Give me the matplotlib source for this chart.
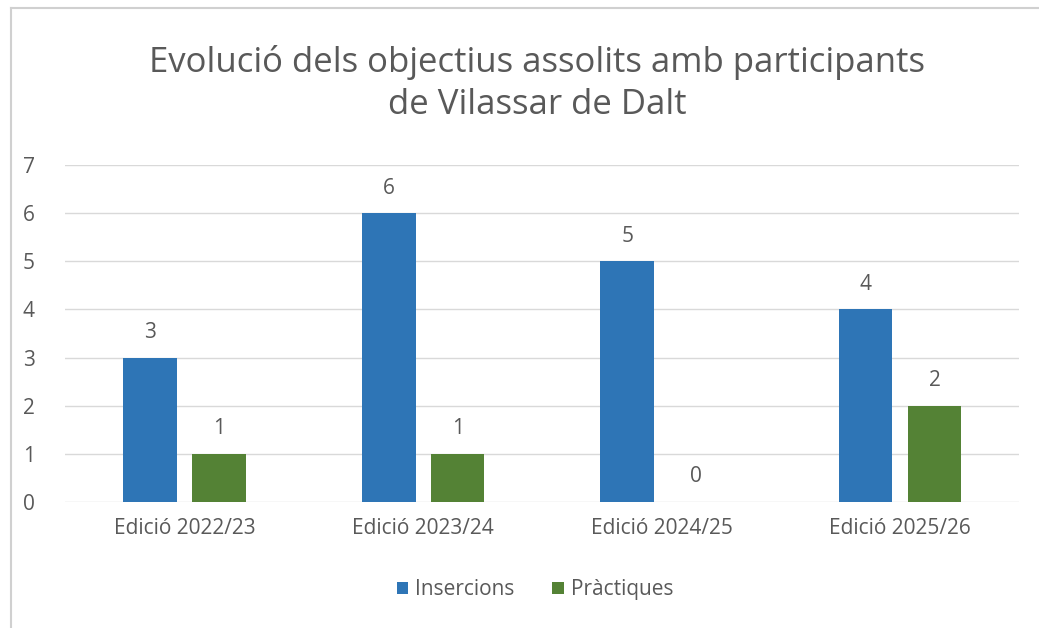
import matplotlib.pyplot as plt
from matplotlib.lines import Line2D
import numpy as np

edicions = ['Edició 2022/23', 'Edició 2023/24', 'Edició 2024/25', 'Edició 2025/26']
insercions = [3, 6, 5, 4]
practiques = [1, 1, 0, 2]

blau = '#2e75b6'
verd = '#548235'
gris = '#595959'

plt.rcParams['font.family'] = ['Open Sans', 'DejaVu Sans']

fig = plt.figure(figsize=(10.39, 6.28), dpi=100)
ax = fig.add_axes([0.063, 0.201, 0.918, 0.536])

x = np.arange(len(edicions))
amplada = 0.225
sep = 0.064
off = (amplada + sep) / 2

b1 = ax.bar(x - off, insercions, amplada, color=blau, label='Insercions', zorder=3)
b2 = ax.bar(x + off, practiques, amplada, color=verd, label='Pràctiques', zorder=3)

for barres in (b1, b2):
    for b in barres:
        ax.text(b.get_x() + b.get_width() / 2, b.get_height() + 0.3, str(int(b.get_height())),
                ha='center', va='bottom', fontsize=15, color=gris)

ax.set_xlim(-0.5, 3.5)
ax.set_ylim(0, 7)
ax.set_yticks(range(0, 8))
ax.set_xticks(x)
ax.set_xticklabels(edicions)
ax.tick_params(axis='both', length=0, labelsize=15, labelcolor=gris)
ax.tick_params(axis='x', pad=12)
ax.tick_params(axis='y', pad=22)
ax.grid(axis='y', color='#d9d9d9', linewidth=1, zorder=0)
for s in ax.spines.values():
    s.set_visible(False)

fig.text(0.517, 0.867, 'Evolució dels objectius assolits amb participants\nde Vilassar de Dalt',
         ha='center', va='center', fontsize=25, color=gris, linespacing=1.3)

fig.legend(handles=[b1, b2], loc='center', bbox_to_anchor=(0.515, 0.061), ncol=2, frameon=False,
           fontsize=15, labelcolor=gris, handlelength=0.55, handleheight=0.55, handletextpad=0.35,
           columnspacing=1.8)

# vora del gràfic
fig.add_artist(Line2D([0.0106, 1.0], [0.987, 0.987], color='#d0d0d0', linewidth=1.5))
fig.add_artist(Line2D([0.0106, 0.0106], [0.0, 0.987], color='#d0d0d0', linewidth=1.5))

fig.savefig('out.png', dpi=100)
